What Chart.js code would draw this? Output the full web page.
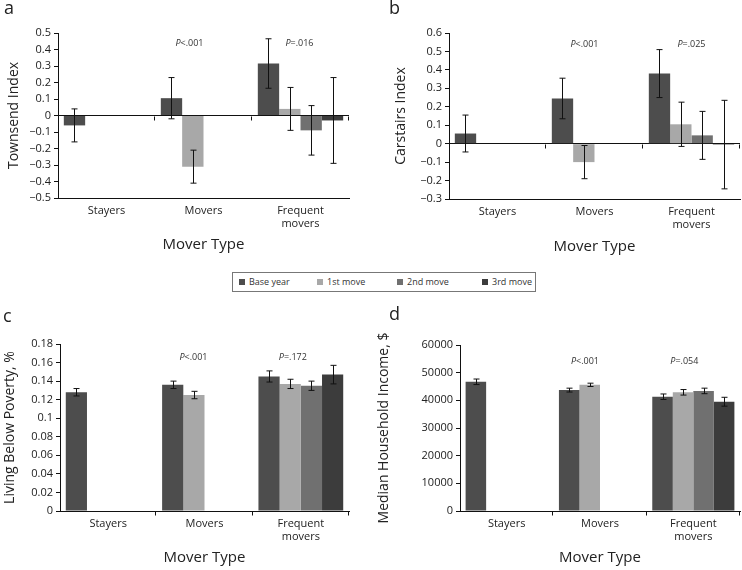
<!DOCTYPE html>
<html>
<head>
<meta charset="utf-8">
<script src="https://cdn.jsdelivr.net/npm/chart.js@4.4.1/dist/chart.umd.min.js"></script>
<style>
  body { margin: 0; background: #fff; font-family: 'Open Sans', sans-serif; }
  #page { position: relative; width: 742px; height: 570px; overflow: hidden; }
  .panel { position: absolute; width: 371px; height: 270px; }
  .letter { position: absolute; font-size: 18px; line-height: 18px; color: #222; }
  #legend { position: absolute; left: 232px; top: 272px; width: 304px; height: 20px; border: 1px solid #777; box-sizing: border-box; }
  .item { position: absolute; top: 4px; font-size: 9px; line-height: 10px; color: #333; }
  .item i { display: inline-block; width: 6px; height: 6px; margin-right: 4px; vertical-align: 0px; }
</style>
</head>
<body>
<div id="page">
  <div class="panel" style="left:0;top:0"><canvas id="chartA" width="371" height="270"></canvas></div>
  <div class="panel" style="left:371px;top:0"><canvas id="chartB" width="371" height="270"></canvas></div>
  <div class="panel" style="left:0;top:300px"><canvas id="chartC" width="371" height="270"></canvas></div>
  <div class="panel" style="left:371px;top:300px"><canvas id="chartD" width="371" height="270"></canvas></div>
  <div class="letter" style="left:4px;top:-2px">a</div>
  <div class="letter" style="left:389px;top:-2px">b</div>
  <div class="letter" style="left:3px;top:306px">c</div>
  <div class="letter" style="left:389px;top:304px">d</div>
  <div id="legend"></div>
</div>
<script>
// categories and series
const categories = ['Stayers', 'Movers', ['Frequent', 'movers']];
const seriesNames = ['Base year', '1st move', '2nd move', '3rd move'];
const seriesColors = ['#4d4d4d', '#a8a8a8', '#707070', '#3c3c3c'];

// a - Townsend index (rows = series, columns = categories)
const townsendValues = [[-0.06, 0.105, 0.315], [null, -0.31, 0.04], [null, null, -0.09], [null, null, -0.03]];
const townsendErrors = [[0.10, 0.125, 0.15], [null, 0.10, 0.13], [null, null, 0.15], [null, null, 0.26]];
const townsendP = ['', 'P<.001', 'P=.016'];

// b - Carstairs index
const carstairsValues = [[0.055, 0.245, 0.38], [null, -0.10, 0.105], [null, null, 0.045], [null, null, -0.005]];
const carstairsErrors = [[0.10, 0.11, 0.13], [null, 0.09, 0.12], [null, null, 0.13], [null, null, 0.24]];
const carstairsP = ['', 'P<.001', 'P=.025'];

// c - living below poverty
const povertyValues = [[0.128, 0.136, 0.145], [null, 0.125, 0.137], [null, null, 0.135], [null, null, 0.147]];
const povertyErrors = [[0.004, 0.004, 0.006], [null, 0.004, 0.005], [null, null, 0.005], [null, null, 0.010]];
const povertyP = ['', 'P<.001', 'P=.172'];

// d - median household income
const incomeValues = [[46700, 43700, 41300], [null, 45600, 42900], [null, null, 43400], [null, null, 39500]];
const incomeErrors = [[1000, 700, 1000], [null, 600, 1000], [null, null, 1000], [null, null, 1600]];
const incomeP = ['', 'P<.001', 'P=.054'];

// y axis ranges
const townsendTicks = [-0.5, 0.5, 0.1];
const carstairsTicks = [-0.3, 0.6, 0.1];
const povertyTicks = [0, 0.18, 0.02];
const incomeTicks = [0, 60000, 10000];

const FONT = "'Open Sans', sans-serif";

// error bars drawn from the errors array using the chart scales
const errorBarPlugin = {
  id: 'errorBars',
  afterDatasetsDraw(chart, args, opts) {
    const ctx = chart.ctx;
    const y = chart.scales.y;
    ctx.save();
    ctx.strokeStyle = '#111';
    ctx.lineWidth = 1;
    chart.data.datasets.forEach((ds, i) => {
      const meta = chart.getDatasetMeta(i);
      meta.data.forEach((bar, j) => {
        const v = ds.data[j];
        const e = opts.errors[i][j];
        if (v === null || e === null) return;
        const x = Math.round(bar.x) + 0.5;
        const top = y.getPixelForValue(v + e);
        const bot = y.getPixelForValue(v - e);
        ctx.beginPath();
        ctx.moveTo(x, top); ctx.lineTo(x, bot);
        ctx.moveTo(x - 3, top); ctx.lineTo(x + 3, top);
        ctx.moveTo(x - 3, bot); ctx.lineTo(x + 3, bot);
        ctx.stroke();
      });
    });
    ctx.restore();
  }
};

// zero line ticks between categories + P value texts
const extrasPlugin = {
  id: 'extras',
  afterDraw(chart, args, opts) {
    const ctx = chart.ctx;
    const x = chart.scales.x;
    const y = chart.scales.y;
    const area = chart.chartArea;
    const zero = Math.round(y.getPixelForValue(0)) + 0.5;
    ctx.save();
    ctx.strokeStyle = '#111';
    ctx.lineWidth = 1;
    const marks = [];
    for (let i = 1; i < categories.length; i++) {
      marks.push((x.getPixelForValue(i - 1) + x.getPixelForValue(i)) / 2);
    }
    marks.push(area.right);
    ctx.beginPath();
    marks.forEach(m => {
      const px = Math.round(m) - 0.5;
      ctx.moveTo(px, zero); ctx.lineTo(px, zero + 4);
    });
    ctx.stroke();

    ctx.fillStyle = '#333';
    ctx.textBaseline = 'middle';
    opts.pLabels.forEach((txt, i) => {
      if (!txt) return;
      const cx = x.getPixelForValue(i) + opts.pShift[i];
      const cy = area.top + opts.pTop;
      ctx.font = 'italic 9px ' + FONT;
      const w1 = ctx.measureText('P').width;
      ctx.font = '9px ' + FONT;
      const rest = txt.slice(1);
      const w2 = ctx.measureText(rest).width;
      let sx = cx - (w1 + w2) / 2;
      ctx.textAlign = 'left';
      ctx.font = 'italic 9px ' + FONT;
      ctx.fillText('P', sx, cy);
      ctx.font = '9px ' + FONT;
      ctx.fillText(rest, sx + w1, cy);
    });
    ctx.restore();
  }
};

function formatTick(v) {
  const r = Math.round(v * 1000) / 1000;
  return String(r).replace('-', '\u2212');
}

function makeChart(canvasId, p) {
  const datasets = seriesNames.map((name, i) => ({
    label: name,
    data: p.values[i],
    backgroundColor: seriesColors[i],
    borderWidth: 0,
    categoryPercentage: 0.88,
    barPercentage: 1.0
  }));

  return new Chart(document.getElementById(canvasId), {
    type: 'bar',
    data: { labels: categories, datasets: datasets },
    options: {
      responsive: false,
      animation: false,
      layout: { padding: { left: 0, top: p.area.top, right: 371 - p.area.right, bottom: 0 } },
      plugins: {
        legend: { display: false },
        tooltip: { enabled: false },
        errorBars: { errors: p.errors },
        extras: { pLabels: p.pLabels, pShift: p.pShift, pTop: p.pTop }
      },
      scales: {
        x: {
          afterFit: s => { s.height = 270 - p.area.bottom; },
          grid: { display: true, drawOnChartArea: false, drawTicks: false },
          border: { display: true, color: '#111', width: 1 },
          ticks: { color: '#222', font: { family: FONT, size: 11 }, padding: 6, maxRotation: 0 },
          title: {
            display: true, text: 'Mover Type', color: '#222',
            font: { family: FONT, size: 15 }, padding: { top: 0, bottom: p.xTitlePad }
          }
        },
        y: {
          min: p.ticks[0], max: p.ticks[1],
          afterFit: s => { s.width = p.area.left; },
          grid: {
            color: ctx => (p.zeroLine && ctx.tick && Math.abs(ctx.tick.value) < 1e-9) ? '#111' : 'rgba(0,0,0,0)',
            tickColor: '#111', tickLength: 4
          },
          border: { display: true, color: '#111', width: 1 },
          ticks: {
            stepSize: p.ticks[2], color: '#222', padding: 3,
            font: { family: FONT, size: 11 },
            callback: v => formatTick(v)
          },
          title: {
            display: true, text: p.title, color: '#222',
            font: { family: FONT, size: 14 }, padding: { top: p.yTitlePad, bottom: 0 }
          }
        }
      }
    },
    plugins: [errorBarPlugin, extrasPlugin]
  });
}

document.addEventListener('DOMContentLoaded', function () {
  makeChart('chartA', {
    title: 'Townsend Index', values: townsendValues, errors: townsendErrors, ticks: townsendTicks,
    pLabels: townsendP, pShift: [0, -14, -1], pTop: 10, zeroLine: true,
    area: { left: 58, top: 33, right: 349, bottom: 198 }, yTitlePad: 6, xTitlePad: 16
  });
  makeChart('chartB', {
    title: 'Carstairs Index', values: carstairsValues, errors: carstairsErrors, ticks: carstairsTicks,
    pLabels: carstairsP, pShift: [0, -10, 0], pTop: 11, zeroLine: true,
    area: { left: 78, top: 33, right: 369, bottom: 199 }, yTitlePad: 22, xTitlePad: 14
  });
  makeChart('chartC', {
    title: 'Living Below Poverty, %', values: povertyValues, errors: povertyErrors, ticks: povertyTicks,
    pLabels: povertyP, pShift: [0, -11, -8], pTop: 13, zeroLine: false,
    area: { left: 60, top: 44, right: 349, bottom: 211 }, yTitlePad: 2, xTitlePad: 3
  });
  makeChart('chartD', {
    title: 'Median Household Income, $', values: incomeValues, errors: incomeErrors, ticks: incomeTicks,
    pLabels: incomeP, pShift: [0, -15, -9], pTop: 16, zeroLine: false,
    area: { left: 89, top: 45, right: 369, bottom: 211 }, yTitlePad: 5, xTitlePad: 3
  });

  // shared legend
  const legend = document.getElementById('legend');
  const itemLeft = [6, 84, 164, 249];
  seriesNames.forEach((name, i) => {
    const el = document.createElement('span');
    el.className = 'item';
    el.style.left = itemLeft[i] + 'px';
    el.innerHTML = '<i style="background:' + seriesColors[i] + '"></i>' + name;
    legend.appendChild(el);
  });
});
</script>
</body>
</html>
